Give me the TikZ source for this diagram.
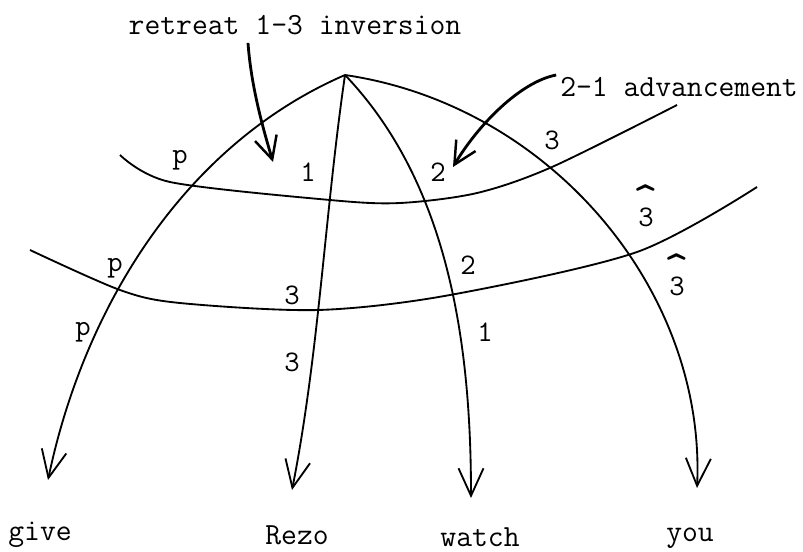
\documentclass[tikz,border=0pt]{standalone}
\usetikzlibrary{arrows.meta,calc}

\begin{document}
\begin{tikzpicture}[
  x=0.02cm, y=-0.02cm,
  font=\ttfamily\fontsize{17.5}{20}\selectfont,
  word/.style={inner sep=1pt},
  rel/.style={inner sep=1pt, font=\ttfamily\fontsize{17}{17}\selectfont},
  stem/.style={line width=1.05pt, -{Straight Barb[length=5.5mm,width=5mm,line width=1.05pt]}},
  stratum/.style={line width=1.05pt},
  pointer/.style={line width=1.6pt, -{Straight Barb[length=4.5mm,width=4.5mm,line width=1.4pt]}}
]
\useasboundingbox (0,0) rectangle (803,551);

\coordinate (root) at (345,75);

\node[word] (give)  at (40,535)  {give};
\node[word] (rezo)  at (297,535) {Rezo};
\node[word] (watch) at (480,537) {watch};
\node[word] (you)   at (690,538) {you};

\coordinate (giveTip)  at (48,480);
\coordinate (rezoTip)  at (292,490);
\coordinate (watchTip) at (471,498);
\coordinate (youTip)   at (697,488);

\draw[stem] (root) .. controls (181,146) and (83,312) .. (giveTip);
\draw[stem] (root) .. controls (325,212) and (319,353) .. (rezoTip);
\draw[stem] (root) .. controls (451,186) and (471,350) .. (watchTip);
\draw[stem] (root) .. controls (550,105) and (706,290) .. (youTip);

\coordinate (upL) at (120,155);
\coordinate (upR) at (677,105);
\coordinate (loL) at (30,250);
\coordinate (loR) at (757,187);

\draw[stratum] plot[smooth] coordinates
  {(upL) (170,182) (330,200) (400,203) (477,193) (552,167) (upR)};
\draw[stratum] plot[smooth] coordinates
  {(loL) (120,290) (180,303) (318,310) (450,295) (637,252) (loR)};

\node[word] (retreat) at (295,25) {retreat 1-3 inversion};
\coordinate (retreatTip) at (273,162);
\draw[pointer] ($(retreat.south)+(-47,6)$) .. controls (251,85) and (262,125) .. (retreatTip);

\node[word] (advance) at (679,87) {2-1 advancement};
\coordinate (advanceTip) at (453,167);
\draw[pointer] ($(advance.west)+(-2,-12)$) .. controls (520,82) and (478,125) .. (advanceTip);

\node[rel] (pUp)    at (180,160) {p};
\node[rel] (pLo)    at (115,268) {p};
\node[rel] (pBelow) at (83,332)  {p};
\node[rel] (rUp)    at (308,172) {1};
\node[rel] (rLo)    at (292,295) {3};
\node[rel] (rBelow) at (292,362) {3};
\node[rel] (wUp)    at (438,172) {2};
\node[rel] (wLo)    at (468,265) {2};
\node[rel] (wBelow) at (485,332) {1};
\node[rel] (yUp)    at (552,140) {3};
\node[rel] (yMid)   at (646,206) {\shortstack{\scalebox{1.6}{\textasciicircum}\\[-7pt]3}};
\node[rel] (yLo)    at (677,275) {\shortstack{\scalebox{1.6}{\textasciicircum}\\[-7pt]3}};

\end{tikzpicture}
\end{document}
